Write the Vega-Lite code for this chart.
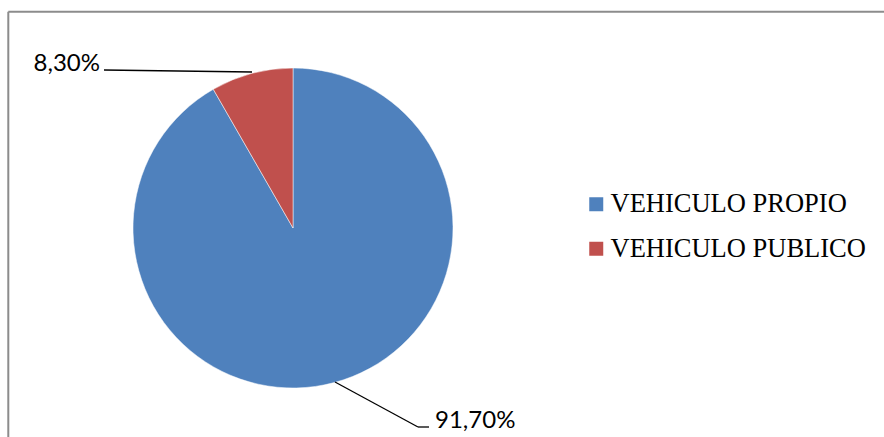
{
  "$schema": "https://vega.github.io/schema/vega-lite/v6.json",
  "width": 884,
  "height": 437,
  "autosize": {"type": "none"},
  "padding": 0,
  "background": "white",
  "config": {"view": {"stroke": null}},
  "datasets": {
    "pie": [
      {"categoria": "VEHICULO PROPIO", "valor": 91.7, "orden": 1, "cx": 0, "cy": 0},
      {"categoria": "VEHICULO PUBLICO", "valor": 8.3, "orden": 2, "cx": 0, "cy": 0}
    ],
    "guias": [
      {"x": -1.18125, "y": 0.9875, "x2": -0.25625, "y2": 0.975},
      {"x": 0.2625, "y": -0.9625, "x2": 0.78125, "y2": -1.24375},
      {"x": 0.78125, "y": -1.24375, "x2": 0.85, "y2": -1.24375}
    ],
    "marco": [
      {"x": -1.7794, "y": 1.35125, "x2": 3.8, "y2": 1.35125},
      {"x": -1.7794, "y": 1.35125, "x2": -1.7794, "y2": -1.4}
    ],
    "etiquetas": [
      {"texto": "8,30%", "x": -1.20625, "y": 0.98125, "lado": "derecha"},
      {"texto": "91,70%", "x": 0.8875, "y": -1.25, "lado": "izquierda"}
    ]
  },
  "layer": [
    {
      "data": {"name": "marco"},
      "mark": {"type": "rule", "color": "#8c8c8c", "strokeWidth": 2},
      "encoding": {
        "x": {"field": "x", "type": "quantitative", "scale": {"domain": [-1.83125, 3.69375], "nice": false, "zero": false}, "axis": null},
        "y": {"field": "y", "type": "quantitative", "scale": {"domain": [-1.30625, 1.425], "nice": false, "zero": false}, "axis": null},
        "x2": {"field": "x2"},
        "y2": {"field": "y2"}
      }
    },
    {
      "data": {"name": "pie"},
      "mark": {"type": "arc", "outerRadius": 160, "stroke": "white", "strokeWidth": 0.5},
      "encoding": {
        "theta": {"field": "valor", "type": "quantitative", "stack": true},
        "order": {"field": "orden", "type": "quantitative"},
        "x": {"field": "cx", "type": "quantitative"},
        "y": {"field": "cy", "type": "quantitative"},
        "color": {
          "field": "categoria",
          "type": "nominal",
          "scale": {"domain": ["VEHICULO PROPIO", "VEHICULO PUBLICO"], "range": ["#4F81BD", "#C0504D"]},
          "legend": {
            "orient": "none",
            "legendX": 583,
            "legendY": 191,
            "title": null,
            "symbolType": "square",
            "symbolSize": 196,
            "symbolStrokeWidth": 0,
            "labelFont": "Liberation Serif",
            "labelFontSize": 26.5,
            "labelColor": "black",
            "labelLimit": 400,
            "rowPadding": 17.5,
            "labelOffset": 1,
            "padding": 0
          }
        }
      }
    },
    {
      "data": {"name": "guias"},
      "mark": {"type": "rule", "color": "black", "strokeWidth": 1.3},
      "encoding": {
        "x": {"field": "x", "type": "quantitative"},
        "y": {"field": "y", "type": "quantitative"},
        "x2": {"field": "x2"},
        "y2": {"field": "y2"}
      }
    },
    {
      "data": {"name": "etiquetas"},
      "transform": [{"filter": "datum.lado === 'derecha'"}],
      "mark": {"type": "text", "align": "right", "baseline": "alphabetic", "font": "Lato", "fontSize": 24, "color": "black"},
      "encoding": {
        "x": {"field": "x", "type": "quantitative"},
        "y": {"field": "y", "type": "quantitative"},
        "text": {"field": "texto"}
      }
    },
    {
      "data": {"name": "etiquetas"},
      "transform": [{"filter": "datum.lado === 'izquierda'"}],
      "mark": {"type": "text", "align": "left", "baseline": "alphabetic", "font": "Lato", "fontSize": 24, "color": "black"},
      "encoding": {
        "x": {"field": "x", "type": "quantitative"},
        "y": {"field": "y", "type": "quantitative"},
        "text": {"field": "texto"}
      }
    }
  ]
}
